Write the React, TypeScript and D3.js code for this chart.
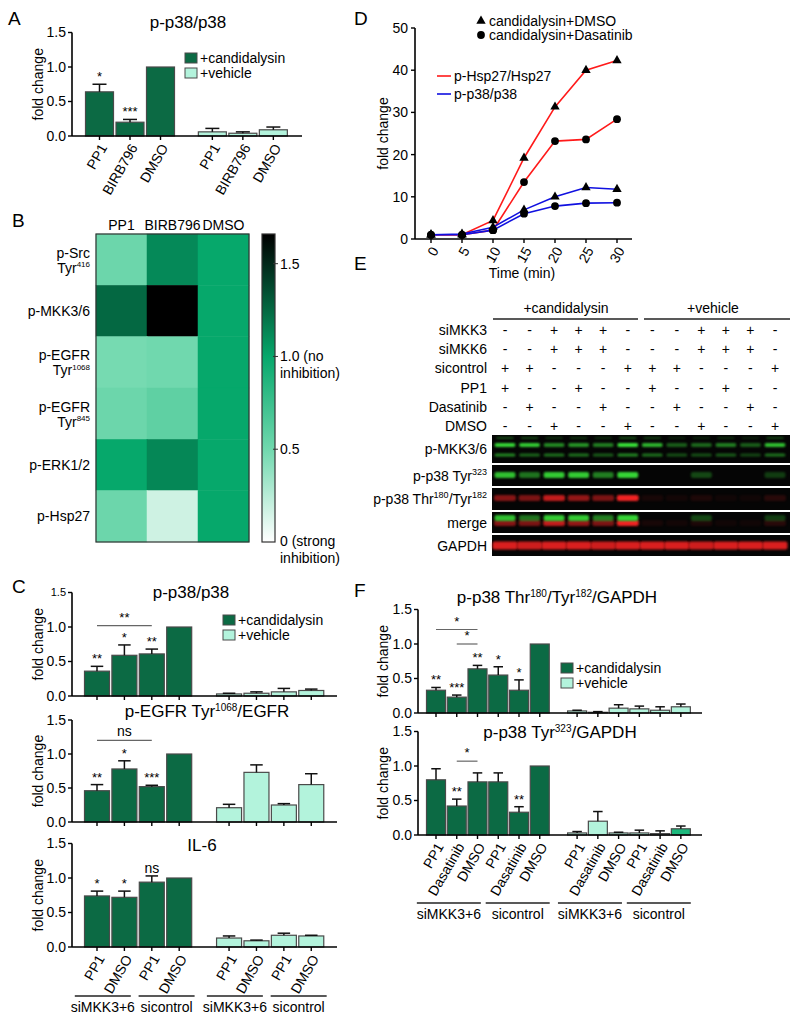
import React from "react";
import * as d3 from "d3";

const FONT = "'Liberation Sans', Arial, Helvetica, sans-serif";
const DARK = "#0c6a44";
const LIGHT = "#b3f3dc";
const BRIGHT = "#1cb97d";
const EDGE = "#4a4a4a";
const KIND_FILL: Record<string, string> = { c: DARK, v: LIGHT, b: BRIGHT };

// ---------------- Panel A ----------------
const aLabels = ["PP1", "BIRB796", "DMSO", "PP1", "BIRB796", "DMSO"];
const aValues = [0.64, 0.2, 1.0, 0.06, 0.04, 0.09];
const aErrors = [0.11, 0.04, 0, 0.05, 0.02, 0.04];
const aStars = ["*", "***", "", "", "", ""];
const aKinds = ["c", "c", "c", "v", "v", "v"];

// ---------------- Panel B ----------------
const bCols = ["PP1", "BIRB796", "DMSO"];
const bRowNames = ["p-Src", "p-MKK3/6", "p-EGFR", "p-EGFR", "p-ERK1/2", "p-Hsp27"];
const bRowSites = ["416", "", "1068", "845", "", ""];
const bValues = [
  [0.52, 1.12, 1.0],
  [1.25, 1.66, 1.0],
  [0.48, 0.5, 1.0],
  [0.52, 0.58, 1.0],
  [1.0, 1.13, 1.0],
  [0.52, 0.17, 1.0],
];
const bColorDomain = [0, 0.5, 1.0, 1.66];
const bColorRange = ["#ffffff", "#70d8ae", "#06a86b", "#000000"];

// ---------------- Panel C ----------------
const cLabels = ["PP1", "DMSO", "PP1", "DMSO", "PP1", "DMSO", "PP1", "DMSO"];
const cGroupLabels = ["siMKK3+6", "sicontrol", "siMKK3+6", "sicontrol"];
const cKinds = ["c", "c", "c", "c", "v", "v", "v", "v"];
const cP38Values = [0.36, 0.59, 0.61, 1.0, 0.03, 0.04, 0.06, 0.08];
const cP38Errors = [0.07, 0.15, 0.07, 0, 0.01, 0.02, 0.05, 0.02];
const cP38Stars = ["**", "*", "**", "", "", "", "", ""];
const cEgfrValues = [0.46, 0.78, 0.52, 1.0, 0.21, 0.73, 0.25, 0.55];
const cEgfrErrors = [0.09, 0.12, 0.02, 0, 0.05, 0.11, 0.02, 0.16];
const cEgfrStars = ["**", "*", "***", "", "", "", "", ""];
const cIl6Values = [0.74, 0.72, 0.94, 1.0, 0.13, 0.09, 0.17, 0.16];
const cIl6Errors = [0.07, 0.09, 0.09, 0, 0.03, 0.01, 0.03, 0.01];
const cIl6Stars = ["*", "*", "ns", "", "", "", "", ""];

// ---------------- Panel D ----------------
const dTimes = [0, 5, 10, 15, 20, 25, 30];
const dHspDmso = [1, 1, 4.4, 19.2, 31.3, 40, 42.3];
const dHspDasa = [1, 1, 2.1, 13.5, 23.2, 23.6, 28.4];
const dP38Dmso = [1, 1.2, 2.8, 6.9, 10, 12.2, 11.8];
const dP38Dasa = [1, 1, 2.1, 6, 7.8, 8.5, 8.6];
const dYTicks = [0, 10, 20, 30, 40, 50];

// ---------------- Panel E ----------------
const eRowNames = ["siMKK3", "siMKK6", "sicontrol", "PP1", "Dasatinib", "DMSO"];
const eRowMarks = [
  ["-", "-", "+", "+", "+", "-", "-", "-", "+", "+", "+", "-"],
  ["-", "-", "+", "+", "+", "-", "-", "-", "+", "+", "+", "-"],
  ["+", "+", "-", "-", "-", "+", "+", "+", "-", "-", "-", "+"],
  ["+", "-", "-", "+", "-", "-", "+", "-", "-", "+", "-", "-"],
  ["-", "+", "-", "-", "+", "-", "-", "+", "-", "-", "+", "-"],
  ["-", "-", "+", "-", "-", "+", "-", "-", "+", "-", "-", "+"],
];
const eMkkUpper = [0.95, 0.9, 0.6, 0.65, 0.55, 1.0, 0.8, 0.4, 0.45, 0.55, 0.4, 0.85];
const eMkkLower = [0.6, 0.45, 0.5, 0.5, 0.4, 0.6, 0.5, 0.35, 0.35, 0.4, 0.3, 0.5];
const eTyr323 = [0.85, 0.5, 0.9, 0.9, 0.55, 0.95, 0, 0, 0.3, 0, 0, 0.25];
const eThr180 = [0.55, 0.5, 0.8, 0.6, 0.5, 1.0, 0.08, 0.06, 0.1, 0.05, 0.05, 0.15];
const eGapdh = [0.9, 0.85, 0.9, 0.9, 0.85, 0.9, 0.9, 0.9, 0.85, 0.9, 0.9, 0.9];

// ---------------- Panel F ----------------
const fLabels = ["PP1", "Dasatinib", "DMSO", "PP1", "Dasatinib", "DMSO", "PP1", "Dasatinib", "DMSO", "PP1", "Dasatinib", "DMSO"];
const fGroupLabels = ["siMKK3+6", "sicontrol", "siMKK3+6", "sicontrol"];
const fThrKinds = ["c", "c", "c", "c", "c", "c", "v", "v", "v", "v", "v", "v"];
const fThrValues = [0.33, 0.23, 0.64, 0.55, 0.33, 1.0, 0.03, 0.01, 0.07, 0.06, 0.04, 0.09];
const fThrErrors = [0.04, 0.03, 0.05, 0.12, 0.15, 0, 0.01, 0.01, 0.05, 0.04, 0.05, 0.04];
const fThrStars = ["**", "***", "**", "*", "*", "", "", "", "", "", "", ""];
const fTyrKinds = ["c", "c", "c", "c", "c", "c", "v", "v", "v", "v", "v", "b"];
const fTyrValues = [0.8, 0.42, 0.77, 0.77, 0.33, 1.0, 0.03, 0.2, 0.03, 0.03, 0.02, 0.09];
const fTyrErrors = [0.16, 0.1, 0.13, 0.13, 0.08, 0, 0.02, 0.14, 0.01, 0.04, 0.04, 0.04];
const fTyrStars = ["", "**", "", "", "**", "", "", "", "", "", "", ""];

type Part = [string, boolean];
function rich(parts: Part[], supSize: number) {
  let raised = false;
  const shift = supSize * 0.65;
  return parts.map(([t, sup], i) => {
    let dy: number | undefined;
    if (sup && !raised) {
      dy = -shift;
      raised = true;
    } else if (!sup && raised) {
      dy = shift;
      raised = false;
    }
    return (
      <tspan key={i} dy={dy} fontSize={sup ? supSize : undefined}>
        {t}
      </tspan>
    );
  });
}

type Bracket = { from: number; to: number; y: number; label: string };
type Group = { from: number; to: number; label: string };

type BarChartProps = {
  axisX: number;
  axisRight: number;
  zeroY: number;
  unit: number;
  firstCenter: number;
  step: number;
  slots: number[];
  barW: number;
  values: number[];
  errors: number[];
  kinds: string[];
  stars: string[];
  brackets?: Bracket[];
  title: Part[];
  titleX: number;
  titleY: number;
  xLabels?: string[];
  groups?: Group[];
  groupY?: number;
  groupShift?: number;
  groupSpread?: number;
  groupHalf?: number;
  legend?: { x: number; y: number };
  yLabelX: number;
  smallTop?: boolean;
};

function Legend({ x, y }: { x: number; y: number }) {
  return (
    <g fontSize={14}>
      <rect x={x} y={y - 5} width={12} height={10} fill={DARK} stroke={EDGE} />
      <text x={x + 15} y={y + 5}>+candidalysin</text>
      <rect x={x} y={y + 10} width={12} height={10} fill={LIGHT} stroke={EDGE} />
      <text x={x + 15} y={y + 20}>+vehicle</text>
    </g>
  );
}

function BarChart(p: BarChartProps) {
  const y = d3.scaleLinear().domain([0, 1.5]).range([p.zeroY, p.zeroY - 1.5 * p.unit]);
  const x = d3.scaleLinear().domain([0, 1]).range([p.firstCenter, p.firstCenter + p.step]);
  const ticks = [0, 0.5, 1, 1.5];
  const fmt = d3.format(".1f");
  const cx = (i: number) => x(p.slots[i]);
  return (
    <g>
      <text x={p.titleX} y={p.titleY} fontSize={17} textAnchor="middle">
        {rich(p.title, 10)}
      </text>
      <text
        transform={`translate(${p.yLabelX},${(y(0) + y(1.5)) / 2}) rotate(-90)`}
        textAnchor="middle"
        fontSize={14}
        dy="0.35em"
      >
        fold change
      </text>
      {ticks.map((t) => (
        <g key={t}>
          <line x1={p.axisX - 4} x2={p.axisX} y1={y(t)} y2={y(t)} stroke="#000" strokeWidth={1.4} />
          <text
            x={p.axisX - 6}
            y={y(t)}
            dy="0.35em"
            textAnchor="end"
            fontSize={p.smallTop && t === 1.5 ? 11 : 14}
          >
            {fmt(t)}
          </text>
        </g>
      ))}
      {p.values.map((v, i) => (
        <rect
          key={i}
          x={cx(i) - p.barW / 2}
          y={y(v)}
          width={p.barW}
          height={y(0) - y(v)}
          fill={KIND_FILL[p.kinds[i]]}
          stroke={EDGE}
          strokeWidth={1.2}
        />
      ))}
      {p.values.map((v, i) =>
        p.errors[i] > 0 ? (
          <g key={i} stroke="#111" strokeWidth={1.5}>
            <line x1={cx(i)} x2={cx(i)} y1={y(v)} y2={y(v + p.errors[i])} />
            <line
              x1={cx(i) - p.barW * 0.25}
              x2={cx(i) + p.barW * 0.25}
              y1={y(v + p.errors[i])}
              y2={y(v + p.errors[i])}
            />
          </g>
        ) : null
      )}
      {p.stars.map((s, i) =>
        s ? (
          <text key={i} x={cx(i)} y={y(p.values[i] + p.errors[i]) - 3} textAnchor="middle" fontSize={s === "ns" ? 14 : 13}>
            {s}
          </text>
        ) : null
      )}
      {(p.brackets || []).map((b, i) => (
        <g key={i}>
          <line x1={cx(b.from)} x2={cx(b.to)} y1={y(b.y)} y2={y(b.y)} stroke="#666" strokeWidth={1.2} />
          <text x={(cx(b.from) + cx(b.to)) / 2} y={y(b.y) - 4} textAnchor="middle" fontSize={b.label === "ns" ? 14 : 13}>
            {b.label}
          </text>
        </g>
      ))}
      <line x1={p.axisX} x2={p.axisX} y1={y(1.5)} y2={y(0)} stroke="#000" strokeWidth={1.6} />
      <line x1={p.axisX} x2={p.axisRight} y1={y(0)} y2={y(0)} stroke="#000" strokeWidth={1.6} />
      {p.values.map((_, i) => (
        <line key={i} x1={cx(i)} x2={cx(i)} y1={y(0)} y2={y(0) + 4} stroke="#000" strokeWidth={1.4} />
      ))}
      {(p.xLabels || []).map((l, i) => (
        <text
          key={i}
          transform={`translate(${cx(i) + 4},${y(0) + 9}) rotate(-60)`}
          textAnchor="end"
          dy="0.35em"
          fontSize={14}
        >
          {l}
        </text>
      ))}
      {(p.groups || []).map((g, i) => {
        const center =
          (cx(g.from) + cx(g.to)) / 2 + (p.groupShift || 0) + (i % 2 === 0 ? -1 : 1) * (p.groupSpread || 0);
        const half = p.groupHalf || 28;
        const x1 = center - half;
        const x2 = center + half;
        return (
          <g key={i}>
            <line x1={x1} x2={x2} y1={p.groupY} y2={p.groupY} stroke="#222" strokeWidth={1.6} />
            <text x={center} y={(p.groupY || 0) + 16} textAnchor="middle" fontSize={14}>
              {g.label}
            </text>
          </g>
        );
      })}
      {p.legend ? <Legend x={p.legend.x} y={p.legend.y} /> : null}
    </g>
  );
}

function Heatmap() {
  const left = 96,
    right = 249,
    top = 234,
    bottom = 542;
  const xb = d3.scaleBand<string>().domain(bCols).range([left, right]);
  const rowIds = bRowNames.map((_, i) => String(i));
  const yb = d3.scaleBand<string>().domain(rowIds).range([top, bottom]);
  const color = d3.scaleLinear<string>().domain(bColorDomain).range(bColorRange).interpolate(d3.interpolateRgb);
  const cbY = d3.scaleLinear().domain([0, 1.66]).range([bottom, top]);
  const stops = d3.range(0, 1.0001, 0.05);
  return (
    <g>
      <defs>
        <linearGradient id="cbgrad" x1="0" y1="1" x2="0" y2="0">
          {stops.map((s) => (
            <stop key={s} offset={s} stopColor={color(s * 1.66)} />
          ))}
        </linearGradient>
      </defs>
      {bCols.map((c) => (
        <text key={c} x={(xb(c) || 0) + xb.bandwidth() / 2} y={230} textAnchor="middle" fontSize={14}>
          {c}
        </text>
      ))}
      {bValues.map((row, r) =>
        row.map((v, c) => (
          <rect
            key={`${r}-${c}`}
            x={xb(bCols[c])}
            y={yb(String(r))}
            width={xb.bandwidth()}
            height={yb.bandwidth()}
            fill={color(v)}
            stroke={color(v)}
            strokeWidth={0.5}
          />
        ))
      )}
      <rect x={left} y={top} width={right - left} height={bottom - top} fill="none" stroke="#333" strokeWidth={1.2} />
      {bRowNames.map((n, r) => {
        const cy = (yb(String(r)) || 0) + yb.bandwidth() / 2;
        if (bRowSites[r]) {
          return (
            <g key={r} fontSize={14} textAnchor="end">
              <text x={90} y={cy - 2}>
                {n}
              </text>
              <text x={90} y={cy + 13}>
                {rich([["Tyr", false], [bRowSites[r], true]], 8)}
              </text>
            </g>
          );
        }
        return (
          <text key={r} x={90} y={cy + 5} fontSize={14} textAnchor="end">
            {n}
          </text>
        );
      })}
      <rect x={262} y={top} width={13} height={bottom - top} fill="url(#cbgrad)" stroke="#333" strokeWidth={1.2} />
      {[1.5, 1.0, 0.5].map((t) => (
        <line key={t} x1={273} x2={278} y1={cbY(t)} y2={cbY(t)} stroke="#333" strokeWidth={1} />
      ))}
      <g fontSize={14}>
        <text x={280} y={cbY(1.5) + 5}>1.5</text>
        <text x={280} y={cbY(1.0) + 5}>1.0 (no</text>
        <text x={280} y={cbY(1.0) + 22}>inhibition)</text>
        <text x={280} y={cbY(0.5) + 5}>0.5</text>
        <text x={280} y={cbY(0) + 4}>0 (strong</text>
        <text x={280} y={cbY(0) + 21}>inhibition)</text>
      </g>
    </g>
  );
}

function TimeCourse() {
  const x = d3.scaleLinear().domain([0, 30]).range([431, 617]);
  const y = d3.scaleLinear().domain([0, 50]).range([239, 28]);
  const line = d3
    .line<number>()
    .x((_, i) => x(dTimes[i]))
    .y((v) => y(v));
  const tri = d3.symbol().type(d3.symbolTriangle).size(38)() || "";
  const series = [
    { v: dHspDmso, c: "#ff1a1a", m: "t" },
    { v: dHspDasa, c: "#ff1a1a", m: "c" },
    { v: dP38Dmso, c: "#1010e0", m: "t" },
    { v: dP38Dasa, c: "#1010e0", m: "c" },
  ];
  return (
    <g>
      {series.map((s, k) => (
        <path key={k} d={line(s.v) || ""} fill="none" stroke={s.c} strokeWidth={1.6} />
      ))}
      {series.map((s, k) =>
        s.v.map((v, i) =>
          s.m === "t" ? (
            <path key={`${k}-${i}`} d={tri} transform={`translate(${x(dTimes[i])},${y(v)})`} fill="#000" />
          ) : (
            <circle key={`${k}-${i}`} cx={x(dTimes[i])} cy={y(v)} r={3.9} fill="#000" />
          )
        )
      )}
      <line x1={415} x2={415} y1={y(50)} y2={y(0)} stroke="#000" strokeWidth={1.6} />
      <line x1={415} x2={632} y1={y(0)} y2={y(0)} stroke="#000" strokeWidth={1.6} />
      {dYTicks.map((t) => (
        <g key={t}>
          <line x1={411} x2={415} y1={y(t)} y2={y(t)} stroke="#000" strokeWidth={1.4} />
          <text x={408} y={y(t)} dy="0.35em" textAnchor="end" fontSize={14}>
            {t}
          </text>
        </g>
      ))}
      {dTimes.map((t) => (
        <g key={t}>
          <line x1={x(t)} x2={x(t)} y1={y(0)} y2={y(0) + 4} stroke="#000" strokeWidth={1.4} />
          <text transform={`translate(${x(t) + 4},${y(0) + 9}) rotate(-60)`} textAnchor="end" dy="0.35em" fontSize={14}>
            {t}
          </text>
        </g>
      ))}
      <text transform={`translate(383,${(y(0) + y(50)) / 2}) rotate(-90)`} textAnchor="middle" dy="0.35em" fontSize={14}>
        fold change
      </text>
      <text x={522} y={278} textAnchor="middle" fontSize={14}>
        Time (min)
      </text>
      <g fontSize={14}>
        <path d={tri} transform="translate(481,21)" fill="#000" />
        <text x={489} y={26}>candidalysin+DMSO</text>
        <circle cx={481} cy={35} r={3.9} fill="#000" />
        <text x={489} y={40}>candidalysin+Dasatinib</text>
        <line x1={437} x2={451} y1={76} y2={76} stroke="#ff1a1a" strokeWidth={1.6} />
        <text x={454} y={81}>p-Hsp27/Hsp27</text>
        <line x1={437} x2={451} y1={94} y2={94} stroke="#1010e0" strokeWidth={1.6} />
        <text x={454} y={99}>p-p38/p38</text>
      </g>
    </g>
  );
}

function Blot() {
  const lane = d3.scaleLinear().domain([0, 11]).range([505, 775]);
  const rowY = d3.scaleLinear().domain([0, 5]).range([335, 431]);
  const panels = [
    { y0: 435, y1: 463, label: [["p-MKK3/6", false]] as Part[] },
    { y0: 465, y1: 486, label: [["p-p38 Tyr", false], ["323", true]] as Part[] },
    { y0: 488, y1: 510, label: [["p-p38 Thr", false], ["180", true], ["/Tyr", false], ["182", true]] as Part[] },
    { y0: 512, y1: 533, label: [["merge", false]] as Part[] },
    { y0: 535, y1: 556, label: [["GAPDH", false]] as Part[] },
  ];
  const G = "#38e038";
  const R = "#f02020";
  const band = (key: string, i: number, cy: number, h: number, w: number, col: string, a: number) =>
    a > 0 ? (
      <rect key={key} x={lane(i) - w / 2} y={cy - h / 2} width={w} height={h} rx={2} fill={col} opacity={Math.min(1, a)} filter="url(#blur)" />
    ) : null;
  return (
    <g>
      <defs>
        <filter id="blur" x="-30%" y="-100%" width="160%" height="300%">
          <feGaussianBlur stdDeviation="1.2" />
        </filter>
      </defs>
      <text x={566} y={313} textAnchor="middle" fontSize={14}>
        +candidalysin
      </text>
      <line x1={493} x2={638} y1={319} y2={319} stroke="#222" strokeWidth={1.6} />
      <text x={713} y={313} textAnchor="middle" fontSize={14}>
        +vehicle
      </text>
      <line x1={644} x2={790} y1={319} y2={319} stroke="#222" strokeWidth={1.6} />
      {eRowNames.map((n, r) => (
        <g key={n} fontSize={14}>
          <text x={487} y={rowY(r)} textAnchor="end">
            {n}
          </text>
          {eRowMarks[r].map((m, i) => (
            <text key={i} x={lane(i)} y={rowY(r)} textAnchor="middle">
              {m}
            </text>
          ))}
        </g>
      ))}
      {panels.map((pn, k) => (
        <g key={k}>
          <rect x={492} y={pn.y0} width={298} height={pn.y1 - pn.y0} fill="#050505" />
          <text x={487} y={(pn.y0 + pn.y1) / 2 + 5} textAnchor="end" fontSize={14}>
            {rich(pn.label, 9)}
          </text>
        </g>
      ))}
      {eMkkUpper.map((a, i) => band(`mu${i}`, i, 445, 4, 21, G, a))}
      {eMkkLower.map((a, i) => band(`ml${i}`, i, 455, 3, 21, G, a))}
      {eMkkUpper.map((a, i) => band(`mt${i}`, i, 438, 2, 18, G, a * 0.35))}
      {eTyr323.map((a, i) => band(`ty${i}`, i, 475, 6, 21, G, a))}
      {eThr180.map((a, i) => band(`th${i}`, i, 498, 6, 22, R, a))}
      {eThr180.map((a, i) => band(`mr${i}`, i, 523, 6, 22, R, a))}
      {eTyr323.map((a, i) => band(`mg${i}`, i, 518, 6, 21, G, a))}
      {eGapdh.map((a, i) => band(`gp${i}`, i, 545.5, 8, 25, R, a))}
    </g>
  );
}

export default function App() {
  return (
    <div style={{ position: "absolute", left: 0, top: 0 }}>
      <svg width={800} height={1021} viewBox="0 0 800 1021" style={{ display: "block", background: "#fff" }} fontFamily={FONT} fill="#000">
        <g fontSize={19}>
          <text x={8} y={25}>A</text>
          <text x={12} y={227}>B</text>
          <text x={12} y={593}>C</text>
          <text x={354} y={25}>D</text>
          <text x={354} y={270}>E</text>
          <text x={354} y={597}>F</text>
        </g>
        <BarChart
          axisX={72}
          axisRight={302}
          zeroY={136}
          unit={69}
          firstCenter={99.5}
          step={30.5}
          slots={[0, 1, 2, 3.7, 4.7, 5.7]}
          barW={28}
          values={aValues}
          errors={aErrors}
          kinds={aKinds}
          stars={aStars}
          title={[["p-p38/p38", false]]}
          titleX={188}
          titleY={28}
          xLabels={aLabels}
          legend={{ x: 185, y: 58 }}
          yLabelX={38}
        />
        <Heatmap />
        <BarChart
          axisX={72}
          axisRight={337}
          zeroY={696}
          unit={69}
          firstCenter={97}
          step={27.4}
          slots={[0, 1, 2, 3, 4.82, 5.82, 6.82, 7.82]}
          barW={25}
          values={cP38Values}
          errors={cP38Errors}
          kinds={cKinds}
          stars={cP38Stars}
          brackets={[{ from: 0, to: 2, y: 1.02, label: "**" }]}
          title={[["p-p38/p38", false]]}
          titleX={191}
          titleY={598}
          legend={{ x: 223, y: 620 }}
          yLabelX={38}
          smallTop
        />
        <BarChart
          axisX={72}
          axisRight={337}
          zeroY={822}
          unit={68}
          firstCenter={97}
          step={27.4}
          slots={[0, 1, 2, 3, 4.82, 5.82, 6.82, 7.82]}
          barW={25}
          values={cEgfrValues}
          errors={cEgfrErrors}
          kinds={cKinds}
          stars={cEgfrStars}
          brackets={[{ from: 0, to: 2, y: 1.2, label: "ns" }]}
          title={[["p-EGFR Tyr", false], ["1068", true], ["/EGFR", false]]}
          titleX={207}
          titleY={717}
          yLabelX={38}
        />
        <BarChart
          axisX={72}
          axisRight={337}
          zeroY={947}
          unit={69}
          firstCenter={97}
          step={27.4}
          slots={[0, 1, 2, 3, 4.82, 5.82, 6.82, 7.82]}
          barW={25}
          values={cIl6Values}
          errors={cIl6Errors}
          kinds={cKinds}
          stars={cIl6Stars}
          title={[["IL-6", false]]}
          titleX={202}
          titleY={851}
          xLabels={cLabels}
          groups={cGroupLabels.map((l, g) => ({ from: g * 2, to: g * 2 + 1, label: l }))}
          groupY={996}
          groupShift={-3.4}
          groupSpread={4.5}
          groupHalf={28}
          yLabelX={38}
        />
        <TimeCourse />
        <Blot />
        <BarChart
          axisX={418}
          axisRight={702}
          zeroY={713}
          unit={69}
          firstCenter={436}
          step={20.75}
          slots={[0, 1, 2, 3, 4, 5, 6.8, 7.8, 8.8, 9.8, 10.8, 11.8]}
          barW={19}
          values={fThrValues}
          errors={fThrErrors}
          kinds={fThrKinds}
          stars={fThrStars}
          brackets={[
            { from: 0, to: 2, y: 1.21, label: "*" },
            { from: 1, to: 2, y: 1.0, label: "*" },
          ]}
          title={[["p-p38 Thr", false], ["180", true], ["/Tyr", false], ["182", true], ["/GAPDH", false]]}
          titleX={557}
          titleY={603}
          legend={{ x: 561, y: 668 }}
          yLabelX={383}
        />
        <BarChart
          axisX={418}
          axisRight={702}
          zeroY={835}
          unit={69}
          firstCenter={436}
          step={20.75}
          slots={[0, 1, 2, 3, 4, 5, 6.8, 7.8, 8.8, 9.8, 10.8, 11.8]}
          barW={19}
          values={fTyrValues}
          errors={fTyrErrors}
          kinds={fTyrKinds}
          stars={fTyrStars}
          brackets={[{ from: 1, to: 2, y: 1.07, label: "*" }]}
          title={[["p-p38 Tyr", false], ["323", true], ["/GAPDH", false]]}
          titleX={560}
          titleY={738}
          xLabels={fLabels}
          groups={fGroupLabels.map((l, g) => ({ from: g * 3, to: g * 3 + 2, label: l }))}
          groupY={903}
          groupShift={-4.6}
          groupSpread={3.3}
          groupHalf={32}
          yLabelX={383}
        />
      </svg>
    </div>
  );
}
